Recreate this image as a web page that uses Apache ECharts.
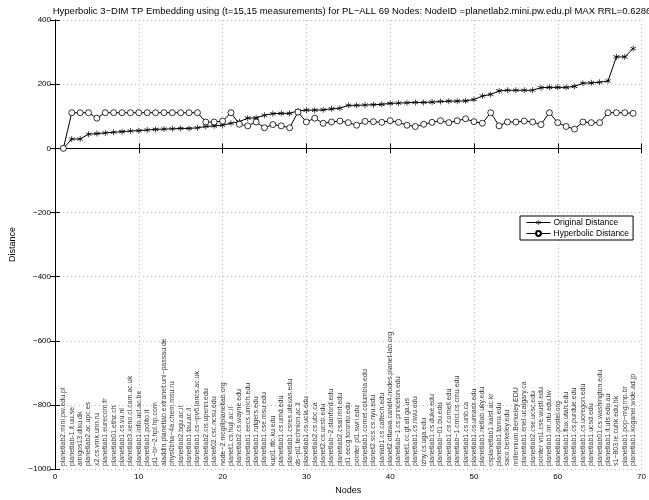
<!DOCTYPE html>
<html>
<head>
<meta charset="utf-8">
<script src="https://cdn.jsdelivr.net/npm/echarts@6/dist/echarts.min.js"></script>
<style>
  html, body { margin: 0; padding: 0; background: #fff; }
  #chart { width: 649px; height: 500px; }
</style>
</head>
<body>
<div id="chart"></div>
<script>
// node names, in the order they are plotted (x = 1..69)
const nodeNames = [
  'planetlab2.mini.pw.edu.pl', 'planetlab-1.it.uu.se', 'amigos13.diku.dk', 'planetlab2.ac.upc.es',
  'x2.cs.vmk.unn.ru', 'planetlab1.eurecom.fr', 'planetlab01.ethz.ch', 'planetlab1.cs.vu.nl',
  'planetlab3.xeno.cl.cam.ac.uk', 'planetlab1.info.ucl.ac.be', 'planetlab1.polito.it', 'pl1−br−2.hpl.hp.com',
  'aladdin.planetlab.extranet.uni−passau.de', 'phys0bha−4a.chem.msu.ru', 'planetlab2.bgu.ac.il', 'planetlab1.tau.ac.il',
  'planetlab1.cs−ipv6.lancs.ac.uk', 'planetlab2.cis.upenn.edu', 'planet02.csc.ncsu.edu', 'node−2.mcgillplanetlab.org',
  'planet1.cs.huji.ac.il', 'planetlab2.cs.wayne.edu', 'planetlab1.eecs.umich.edu', 'planetlab1.rutgers.edu',
  'planetlab1.cse.msu.edu', 'kupl1.ittc.ku.edu', 'planetlab1.cs.umd.edu', 'planetlab1.csres.utexas.edu',
  'ds−pl1.technion.ac.il', 'planetlab1.cs.ucla.edu', 'planetlab2.cs.ubc.ca', 'planet2.cs.ucsb.edu',
  'planetlab−2.stanford.edu', 'planetlab2.csail.mit.edu', 'pl1.eecg.toronto.edu', 'pointer pl1.swri.edu',
  'planetlab1.comet.columbia.edu', 'planet2.scs.cs.nyu.edu', 'planlab1.cs.caltech.edu', 'planet2.ottawa.canet4.nodes.planet-lab.org',
  'planetlab−1.cs.princeton.edu', 'planet1.cc.gt.atl.ga.us', 'planetlab1.cs.nwu.edu', 'lzhy.cs.uga.edu',
  'planetlab1.cs.duke.edu', 'planetlab−01.bu.edu', 'planetlab1.cs.cornell.edu', 'planetlab−1.cmcl.cs.cmu.edu',
  'planetlab1.cs.unb.ca', 'planetlab1.cs.umass.edu', 'planetlab1.netlab.uky.edu', 'csplanetlab1.kaist.ac.kr',
  'planetlab1.tamu.edu', 'saco.berkeley.edu', 'millennium.Berkeley.EDU', 'planetlab1.enel.ucalgary.ca',
  'planetlab2.cse.ucsc.edu', 'pointer vn1.cse.wustl.edu', 'planetlab1.im.ntu.edu.tw', 'planetlab1.postel.org',
  'planetlab1.flux.utah.edu', 'planetlab1.cs.purdue.edu', 'planetlab1.cs.uoregon.edu', 'planetlab1.ucsd.edu',
  'planetlab01.cs.washington.edu', 'planetlab1.it.uts.edu.au', 's1−803.ie.cuhk.edu.hk', 'planetlab1.pop−mg.rnp.br',
  'planetlab1.koganei.wide.ad.jp'
]

const originalDistance = [
  0, 29, 29, 44, 46, 48, 50, 52, 54, 55, 57, 59, 60, 61, 62, 62, 64, 68, 70, 72,
  78, 83, 94, 95, 103, 108, 109, 109, 117, 119, 119, 120, 123, 125, 134, 134, 135, 136, 137, 140,
  141, 142, 143, 143, 144, 146, 147, 147, 148, 152, 163, 168, 179, 181, 181, 181, 181, 189, 190, 190,
  190, 193, 203, 204, 206, 210, 285, 285, 311
]

const hyperbolicDistance = [
  0, 111, 111, 111, 94, 111, 111, 111, 111, 111, 111, 111, 111, 111, 111, 111, 111, 82, 82, 85,
  111, 75, 70, 82, 64, 74, 70, 64, 113, 82, 94, 78, 82, 85, 80, 72, 84, 83, 81, 86,
  81, 72, 68, 75, 81, 86, 80, 86, 92, 83, 78, 111, 70, 82, 82, 85, 82, 74, 111, 80,
  68, 60, 82, 80, 80, 111, 111, 111, 109
]

const xTicks = { min: 0, max: 70, interval: 10 }
const yTicks = { min: -1000, max: 400, interval: 200 }

const pair = (arr) => arr.map((v, i) => [i + 1, v])
const minus = (v) => String(v).replace('-', '−')

// small asterisk marker, like MATLAB '*'
const asterisk = 'path://M4.5,0h1v3.8l3.3,-1.9l0.5,0.9l-3.3,1.9l3.3,1.9l-0.5,0.9l-3.3,-1.9v3.8h-1v-3.8l-3.3,1.9l-0.5,-0.9l3.3,-1.9l-3.3,-1.9l0.5,-0.9l3.3,1.9z'

const chart = echarts.init(document.getElementById('chart'))

// MATLAB style box: axis line + inside ticks on all four sides
const boxAxis = {
  axisLine: { show: true, lineStyle: { color: '#000', width: 1 } },
  axisTick: { show: true, inside: true, length: 5, lineStyle: { color: '#000' } }
}

chart.setOption({
  animation: false,
  textStyle: { fontFamily: 'Liberation Sans, Arial, sans-serif' },
  title: {
    text: 'Hyperbolic 3−DIM TP Embedding using (t=15,15 measurements) for PL−ALL 69 Nodes: NodeID =planetlab2.mini.pw.edu.pl MAX RRL=0.6286',
    left: 347,
    textAlign: 'center',
    top: 1,
    textStyle: { fontSize: 9.5, fontWeight: 'normal', color: '#000' }
  },
  grid: { left: 50, top: 20, width: 600, height: 455 },
  legend: {
    orient: 'vertical',
    left: 520,
    top: 216,
    width: 112,
    backgroundColor: '#fff',
    borderColor: '#000',
    borderWidth: 1,
    padding: [2, 4, 2, 6],
    itemGap: 2,
    itemWidth: 24,
    itemHeight: 6,
    lineStyle: { width: 1 },
    textStyle: { fontSize: 8.5, color: '#000', padding: [0, 0, 0, -2] },
    data: ['Original Distance', 'Hyperbolic Distance']
  },
  xAxis: [
    {
      type: 'value', ...xTicks, ...boxAxis,
      name: 'Nodes', nameLocation: 'middle', nameGap: 16,
      nameTextStyle: { fontSize: 9, color: '#000' },
      axisLabel: { fontSize: 8, color: '#000', margin: 4 },
      splitLine: { show: true, lineStyle: { color: '#bbb', type: [1, 3] } }
    },
    {
      type: 'value', position: 'top', ...xTicks, ...boxAxis,
      axisLabel: { show: false }, splitLine: { show: false }
    }
  ],
  yAxis: [
    {
      type: 'value', ...yTicks, ...boxAxis,
      name: 'Distance', nameLocation: 'middle', nameGap: 38,
      nameTextStyle: { fontSize: 9, color: '#000' },
      axisLabel: { fontSize: 8, color: '#000', margin: 4, formatter: minus },
      splitLine: { show: true, lineStyle: { color: '#bbb', type: [1, 3] } }
    },
    {
      type: 'value', position: 'right', ...yTicks, ...boxAxis,
      axisLabel: { show: false }, splitLine: { show: false }
    }
  ],
  series: [
    {
      name: 'node names',
      type: 'scatter',
      symbolSize: 0,
      silent: true,
      data: nodeNames.map((n, i) => ({ name: n, value: [i + 1, yTicks.min] })),
      label: {
        show: true,
        formatter: '{b}',
        position: 'top',
        distance: 3,
        rotate: 90,
        align: 'left',
        verticalAlign: 'middle',
        fontSize: 7,
        color: '#000'
      },
      z: 1
    },
    {
      name: 'Original Distance',
      type: 'line',
      data: pair(originalDistance),
      symbol: asterisk,
      symbolSize: 6,
      showAllSymbol: true,
      lineStyle: { color: '#000', width: 1 },
      itemStyle: { color: '#000' },
      z: 3
    },
    {
      name: 'Hyperbolic Distance',
      type: 'line',
      data: pair(hyperbolicDistance),
      symbol: 'circle',
      symbolSize: 6,
      showAllSymbol: true,
      lineStyle: { color: '#000', width: 1 },
      itemStyle: { color: '#fff', borderColor: '#000', borderWidth: 0.8 },
      z: 4
    }
  ]
})

window.addEventListener('resize', function () {
  chart.resize()
})
</script>
</body>
</html>
